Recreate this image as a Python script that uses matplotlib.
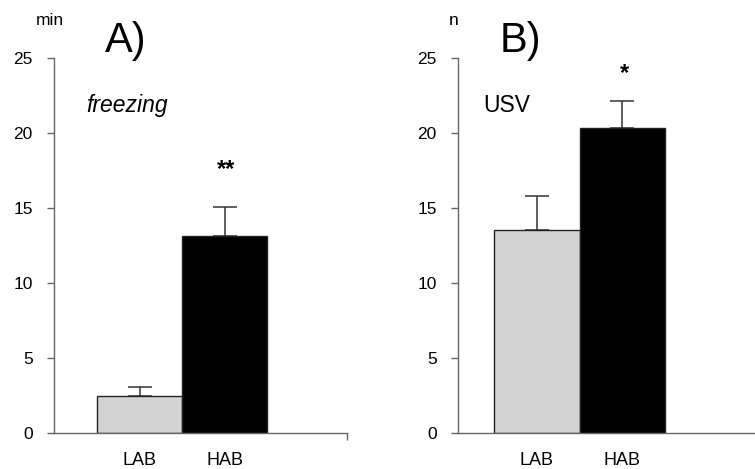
import matplotlib
matplotlib.use("Agg")
import matplotlib.pyplot as plt
import numpy as np

plt.rcParams['font.family'] = ['Liberation Sans', 'DejaVu Sans']

groups = ["LAB", "HAB"]
colors = ["#d3d3d3", "#000000"]

# A) freezing (min)
freezing = [2.45, 13.15]
freezing_err = [0.6, 1.9]

# B) USV (n)
usv = [13.5, 20.3]
usv_err = [2.3, 1.85]

fig = plt.figure(figsize=(7.55, 4.69), dpi=100)

axA = fig.add_axes([53.5 / 755, 36.3 / 469, 293.5 / 755, 374.7 / 469])
axB = fig.add_axes([457.7 / 755, 36.3 / 469, 297.3 / 755, 374.7 / 469])

panels = [
    (axA, freezing, freezing_err, "min", "**", 2.5, (-1.012, 2.441)),
    (axB, usv, usv_err, "n", "*", 1.8, (-0.925, 2.55)),
]

x = np.arange(len(groups))
for ax, vals, errs, unit, star, off, xl in panels:
    ax.bar(x, vals, width=1.0, color=colors, edgecolor="#222222", linewidth=1.0,
           zorder=2)
    ax.errorbar(x, vals, yerr=[np.zeros(len(errs)), errs], fmt="none",
                ecolor="#333333", elinewidth=1.1, capsize=8.5, capthick=1.1,
                zorder=1)
    ax.set_xlim(*xl)
    ax.set_ylim(0, 25)
    ax.set_yticks(range(0, 26, 5))
    ax.set_xticks(x)
    ax.set_xticklabels(groups, fontsize=13)
    ax.tick_params(axis="x", length=0, pad=14)
    ax.tick_params(axis="y", length=5, width=1, color="#666666", labelsize=12.5,
                   pad=10)
    for s in ["top", "right"]:
        ax.spines[s].set_visible(False)
    for s in ["left", "bottom"]:
        ax.spines[s].set_color("#666666")
        ax.spines[s].set_linewidth(1.0)
    ax.text(-0.012, 1.1, unit, transform=ax.transAxes, fontsize=12.5,
            ha="center", va="center")
    ax.text(x[1] + 0.02, vals[1] + errs[1] + off,
            star, fontsize=17, fontweight="bold", ha="center", va="center")

axA.text(0.245, 1.045, "A)", transform=axA.transAxes, fontsize=30,
         ha="center", va="center")
axB.text(0.21, 1.045, "B)", transform=axB.transAxes, fontsize=30,
         ha="center", va="center")
axA.text(0.11, 0.873, "freezing", transform=axA.transAxes, fontsize=16.5,
         style="italic", ha="left", va="center")
axB.text(0.085, 0.873, "USV", transform=axB.transAxes, fontsize=16.5,
         ha="left", va="center")

# small end tick on the x axis of panel A
axA.plot([1], [0], marker=3, markersize=5, color="#666666",
         transform=axA.transAxes, clip_on=False, markeredgewidth=1.0)

fig.savefig("out.png", dpi=100)
